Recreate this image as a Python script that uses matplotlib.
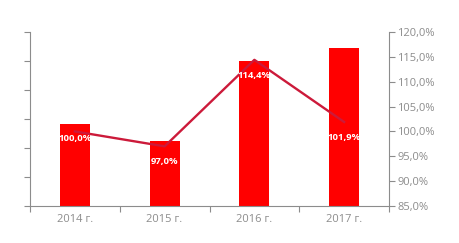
import numpy as np
import matplotlib.pyplot as plt

# Datos
years = ["2014 г.", "2015 г.", "2016 г.", "2017 г."]
bar_values = [2.83, 2.24, 5.0, 5.45]
pct_values = [100.0, 97.0, 114.4, 101.9]
pct_labels = ["100,0%", "97,0%", "114,4%", "101,9%"]
label_offsets = [-5, -11, -11.5, -11.5]

plt.rcParams['font.family'] = ['Open Sans', 'DejaVu Sans']
grey = '#8c8c8c'

fig = plt.figure(figsize=(4.59, 2.43), dpi=100)
ax = fig.add_axes([30 / 459, 37 / 243, 359 / 459, 174 / 243])
x = np.arange(len(years))

ax.bar(x, bar_values, width=1 / 3, color='#ff0000', zorder=2)
ax.set_xlim(-0.5, len(years) - 0.5)
ax.set_ylim(0, 6)
ax.set_yticks(np.arange(0, 7, 1))
ax.set_yticklabels([])
ax.set_xticks(x)
ax.set_xticklabels(years, color=grey, fontsize=8)
ax.set_xticks(np.arange(-0.5, len(years), 1), minor=True)
ax.tick_params(axis='x', which='major', length=0, pad=6)
ax.tick_params(axis='x', which='minor', length=4, color=grey, width=0.8)
ax.tick_params(axis='y', length=4, color=grey, width=0.8)
for s in ['top', 'right']:
    ax.spines[s].set_visible(False)
for s in ['left', 'bottom']:
    ax.spines[s].set_color(grey)
    ax.spines[s].set_linewidth(0.8)

ax2 = ax.twinx()
ax2.plot(x, pct_values, color='#cc1a3a', lw=1.7, zorder=3)
ax2.set_ylim(85, 120)
ticks = np.arange(85, 121, 5)
ax2.set_yticks(ticks)
ax2.set_yticklabels([f"{t:.1f}%".replace('.', ',') for t in ticks], color=grey, fontsize=8)
ax2.tick_params(axis='y', length=4, color=grey, width=0.8, pad=2)
for s in ['top', 'left', 'bottom']:
    ax2.spines[s].set_visible(False)
ax2.spines['right'].set_color(grey)
ax2.spines['right'].set_linewidth(0.8)

for xi, v, lab, off in zip(x, pct_values, pct_labels, label_offsets):
    ax2.annotate(lab, (xi, v), xytext=(0, off), textcoords='offset points',
                 ha='center', va='center', color='white', fontsize=6.8,
                 fontweight='bold', zorder=4)

fig.savefig('out.png', dpi=100)
